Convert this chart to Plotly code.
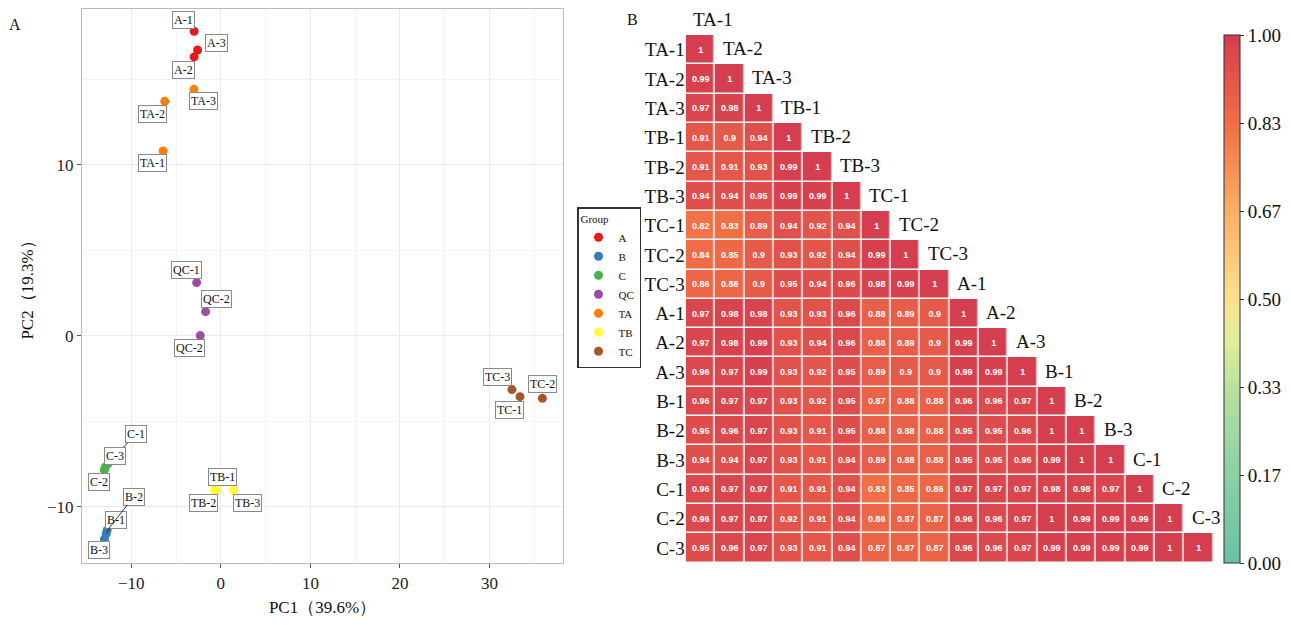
import plotly.graph_objects as go

# ---------------- PCA data (panel A) ----------------
samples = ["A-1", "A-2", "A-3", "B-1", "B-2", "B-3", "C-1", "C-2", "C-3",
           "QC-1", "QC-2", "QC-2", "TA-1", "TA-2", "TA-3",
           "TB-1", "TB-2", "TB-3", "TC-1", "TC-2", "TC-3"]
groups = ["A", "A", "A", "B", "B", "B", "C", "C", "C",
          "QC", "QC", "QC", "TA", "TA", "TA",
          "TB", "TB", "TB", "TC", "TC", "TC"]
pc1 = [-2.98, -2.98, -2.6, -12.8, -12.7, -13.0, -12.6, -13.0, -12.9,
       -2.7, -1.7, -2.3, -6.45, -6.26, -3.0,
       -0.5, -0.7, 1.4, 33.4, 35.9, 32.5]
pc2 = [17.8, 16.3, 16.7, -11.6, -11.4, -11.9, -7.5, -7.85, -7.7,
       3.1, 1.4, 0.0, 10.8, 13.7, 14.4,
       -9.05, -9.05, -9.05, -3.57, -3.67, -3.16]
group_order = ["A", "B", "C", "QC", "TA", "TB", "TC"]
group_colors = {"A": "#E41A1C", "B": "#377EB8", "C": "#4DAF4A", "QC": "#984EA3",
                "TA": "#FF7F00", "TB": "#FFFF33", "TC": "#A65628"}

# label offsets (pixels) and whether a connector segment is drawn
label_offsets = [(-11, -11), (-11, 13), (19, -7), (10, -14), (27, -34), (-5, 11),
                 (28, -30), (-5, 12), (10, -11), (-10, -13), (11, -13), (-11, 12),
                 (-11, 12), (-12, 13), (10, 12), (6, -13), (-11, 13), (14, 13),
                 (-11, 13), (0, -14), (-14, -13)]
label_segment = {"C-1", "B-2", "B-1"}

# ---------------- Correlation data (panel B) ----------------
corr_labels = ["TA-1", "TA-2", "TA-3", "TB-1", "TB-2", "TB-3", "TC-1", "TC-2", "TC-3",
               "A-1", "A-2", "A-3", "B-1", "B-2", "B-3", "C-1", "C-2", "C-3"]
corr_lower = [
    [1],
    [0.99, 1],
    [0.97, 0.98, 1],
    [0.91, 0.9, 0.94, 1],
    [0.91, 0.91, 0.93, 0.99, 1],
    [0.94, 0.94, 0.95, 0.99, 0.99, 1],
    [0.82, 0.83, 0.89, 0.94, 0.92, 0.94, 1],
    [0.84, 0.85, 0.9, 0.93, 0.92, 0.94, 0.99, 1],
    [0.86, 0.86, 0.9, 0.95, 0.94, 0.96, 0.98, 0.99, 1],
    [0.97, 0.98, 0.98, 0.93, 0.93, 0.96, 0.88, 0.89, 0.9, 1],
    [0.97, 0.98, 0.99, 0.93, 0.94, 0.96, 0.88, 0.89, 0.9, 0.99, 1],
    [0.96, 0.97, 0.99, 0.93, 0.92, 0.95, 0.89, 0.9, 0.9, 0.99, 0.99, 1],
    [0.96, 0.97, 0.97, 0.93, 0.92, 0.95, 0.87, 0.88, 0.88, 0.96, 0.96, 0.97, 1],
    [0.95, 0.96, 0.97, 0.93, 0.91, 0.95, 0.88, 0.88, 0.88, 0.95, 0.95, 0.96, 1, 1],
    [0.94, 0.94, 0.97, 0.93, 0.91, 0.94, 0.89, 0.88, 0.88, 0.95, 0.95, 0.96, 0.99, 1, 1],
    [0.96, 0.97, 0.97, 0.91, 0.91, 0.94, 0.83, 0.85, 0.86, 0.97, 0.97, 0.97, 0.98, 0.98, 0.97, 1],
    [0.96, 0.97, 0.97, 0.92, 0.91, 0.94, 0.86, 0.87, 0.87, 0.96, 0.96, 0.97, 1, 0.99, 0.99, 0.99, 1],
    [0.95, 0.96, 0.97, 0.93, 0.91, 0.94, 0.87, 0.87, 0.87, 0.96, 0.96, 0.97, 0.99, 0.99, 0.99, 0.99, 1, 1],
]
cbar_ticks = [0, 1/6, 2/6, 3/6, 4/6, 5/6, 1]
cbar_ticktext = ["0.00", "0.17", "0.33", "0.50", "0.67", "0.83", "1.00"]

SERIF = "Liberation Serif, Times New Roman, serif"
SANS = "Liberation Sans, Arial, sans-serif"

# page has an 8px body margin: size figure so it fits the window
OFF = 8
W, H = 1291 - 2 * OFF, 625 - 2 * OFF


def fx(px):
    return min(1.0, max(0.0, (px - OFF) / W))


def fy(py):
    return min(1.0, max(0.0, 1 - (py - OFF) / H))


fig = go.Figure()

# PCA scatter
for g in group_order:
    idx = [i for i, gg in enumerate(groups) if gg == g]
    fig.add_trace(go.Scatter(
        x=[pc1[i] for i in idx], y=[pc2[i] for i in idx],
        mode="markers", name=g,
        marker=dict(color=group_colors[g], size=9),
        xaxis="x", yaxis="y", hoverinfo="text",
        text=[samples[i] for i in idx],
    ))

annotations = []
for i, s in enumerate(samples):
    ax, ay = label_offsets[i]
    seg = s in label_segment
    annotations.append(dict(
        x=pc1[i], y=pc2[i], xref="x", yref="y", text=s,
        showarrow=True, ax=ax, ay=ay, axref="pixel", ayref="pixel",
        arrowhead=0, arrowwidth=1, standoff=0,
        arrowcolor="#333333" if seg else "rgba(0,0,0,0)",
        font=dict(family=SERIF, size=12, color="#111111"),
        bgcolor="white", bordercolor="#8a8a8a", borderwidth=1, borderpad=1,
    ))

# Heatmap
n = len(corr_labels)
z = [[corr_lower[r][c] if c <= r else None for c in range(n)] for r in range(n)]
txt = [[("%g" % corr_lower[r][c]) if c <= r else "" for c in range(n)] for r in range(n)]
colorscale = [[0.0, "#66C2A5"], [0.2, "#94D3A4"], [0.33, "#B9E19E"], [0.42, "#E0EE9A"],
              [0.5, "#FBE18D"], [0.67, "#FBAE63"], [0.83, "#F26E45"], [1.0, "#D53E4F"]]
fig.add_trace(go.Heatmap(
    z=z, x=list(range(n)), y=list(range(n)), text=txt,
    texttemplate="<b>%{text}</b>",
    textfont=dict(family=SANS, size=9, color="white"),
    colorscale=colorscale, zmin=0, zmax=1, xgap=1.5, ygap=1.5,
    xaxis="x2", yaxis="y2", showscale=True, hoverongaps=False,
    colorbar=dict(
        x=fx(1224), xanchor="left", y=fy(563), yanchor="bottom",
        len=528 / H, lenmode="fraction", thickness=16,
        xpad=0, ypad=0,
        outlinewidth=1, outlinecolor="#333333",
        tickvals=cbar_ticks, ticktext=cbar_ticktext, ticks="outside",
        ticklen=4, tickcolor="#333333",
        tickfont=dict(family=SERIF, size=19, color="#111111"),
    ),
))

# column labels along the diagonal (just above each diagonal cell)
for j, lab in enumerate(corr_labels):
    annotations.append(dict(
        x=j, y=j - 0.49, xref="x2", yref="y2", text=lab, showarrow=False,
        xanchor="left", yanchor="middle", xshift=-9, yshift=16,
        font=dict(family=SERIF, size=19, color="#111111"),
    ))

# panel letters
annotations.append(dict(x=fx(15), y=fy(25), xref="paper", yref="paper", text="A",
                        xanchor="center", yanchor="middle",
                        showarrow=False, font=dict(family=SERIF, size=16, color="#111111")))
annotations.append(dict(x=fx(632), y=fy(20), xref="paper", yref="paper", text="B",
                        xanchor="center", yanchor="middle",
                        showarrow=False, font=dict(family=SERIF, size=16, color="#111111")))

fig.update_layout(
    width=W, height=H, margin=dict(l=0, r=0, t=0, b=0, autoexpand=False),
    paper_bgcolor="white", plot_bgcolor="white",
    showlegend=True,
    legend=dict(
        x=fx(577), y=fy(207), xanchor="left", yanchor="top",
        title=dict(text="Group", font=dict(family=SERIF, size=11, color="#111111")),
        font=dict(family=SERIF, size=11, color="#111111"),
        bordercolor="#333333", borderwidth=1.5, bgcolor="white",
        itemwidth=30, tracegroupgap=0,
    ),
    xaxis=dict(
        domain=[fx(82), fx(563)], range=[-15.5, 38.2], dtick=10, tick0=0,
        showgrid=True, gridcolor="#EBEBEB", gridwidth=1,
        minor=dict(dtick=5, showgrid=True, gridcolor="#F3F3F3", gridwidth=0.6),
        zeroline=False, showline=True, mirror=True, linecolor="#BBBBBB", linewidth=1.2,
        ticks="outside", ticklen=4, tickcolor="#555555",
        tickfont=dict(family=SERIF, size=17, color="#222222"),
        title=dict(text="PC1（39.6%）", font=dict(family=SERIF, size=17, color="#111111"),
                   standoff=10),
        anchor="y",
    ),
    yaxis=dict(
        domain=[fy(563), fy(9)], range=[-13.3, 19.1], dtick=10, tick0=0,
        showgrid=True, gridcolor="#EBEBEB", gridwidth=1,
        minor=dict(dtick=5, showgrid=True, gridcolor="#F3F3F3", gridwidth=0.6),
        zeroline=False, showline=True, mirror=True, linecolor="#BBBBBB", linewidth=1.2,
        ticks="outside", ticklen=4, tickcolor="#555555",
        tickfont=dict(family=SERIF, size=17, color="#222222"),
        title=dict(text="PC2（19.3%）", font=dict(family=SERIF, size=17, color="#111111"),
                   standoff=8),
        anchor="x",
    ),
    xaxis2=dict(
        domain=[fx(685.7), fx(1213.3)], range=[-0.5, n - 0.5],
        showgrid=False, zeroline=False, showticklabels=False, showline=False,
        anchor="y2",
    ),
    yaxis2=dict(
        domain=[fy(562.7), fy(35)], range=[n - 0.5, -0.5],
        showgrid=False, zeroline=False, showline=False,
        tickvals=list(range(n)), ticktext=corr_labels, ticks="",
        tickfont=dict(family=SERIF, size=19, color="#111111"),
        anchor="x2",
    ),
    annotations=annotations,
)

fig.write_html("out.html")
